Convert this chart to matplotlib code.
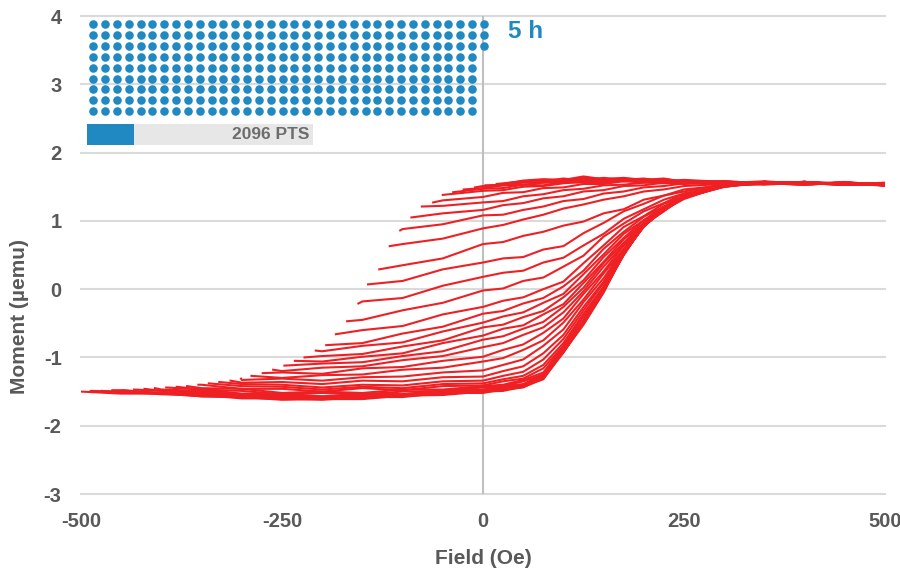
import matplotlib
matplotlib.use('Agg')
import matplotlib.pyplot as plt
from matplotlib.patches import Rectangle

plt.rcParams['font.family'] = ['Liberation Sans', 'DejaVu Sans']
plt.rcParams['font.weight'] = 'bold'
plt.rcParams['axes.unicode_minus'] = False

# field steps shared by all reversal curves (Oe)
FIELD_GRID = [-450, -400, -350, -300, -250, -200, -150, -100, -50,
              0, 25, 50, 75, 100, 125, 150, 175, 200, 225, 250,
              300, 350, 400, 450, 500]

# reversal fields (Oe); each curve: moment at reversal, then at grid points above it
HR_UPPER = [30, 17, 3, -10, -24, -37, -50, -62, -76, -89]
M_UPPER = [
    [1.55, 1.59, 1.61, 1.60, 1.65, 1.61, 1.63, 1.60, 1.62, 1.57, 1.58, 1.55, 1.57, 1.53, 1.55],
    [1.54, 1.55, 1.58, 1.60, 1.58, 1.63, 1.61, 1.62, 1.59, 1.61, 1.58, 1.55, 1.58, 1.54, 1.56, 1.53],
    [1.52, 1.53, 1.57, 1.58, 1.62, 1.59, 1.63, 1.60, 1.62, 1.58, 1.60, 1.57, 1.54, 1.57, 1.53, 1.55],
    [1.49, 1.51, 1.52, 1.56, 1.56, 1.60, 1.59, 1.62, 1.58, 1.61, 1.59, 1.58, 1.56, 1.54, 1.57, 1.55, 1.53],
    [1.46, 1.48, 1.52, 1.53, 1.56, 1.56, 1.60, 1.58, 1.61, 1.58, 1.60, 1.57, 1.58, 1.55, 1.53, 1.56, 1.54],
    [1.42, 1.47, 1.48, 1.53, 1.52, 1.57, 1.56, 1.60, 1.58, 1.60, 1.57, 1.59, 1.55, 1.57, 1.54, 1.55, 1.52],
    [1.38, 1.44, 1.45, 1.50, 1.51, 1.55, 1.57, 1.56, 1.60, 1.57, 1.59, 1.56, 1.57, 1.54, 1.56, 1.53, 1.55],
    [1.27, 1.30, 1.35, 1.41, 1.42, 1.48, 1.49, 1.54, 1.54, 1.58, 1.56, 1.59, 1.55, 1.58, 1.53, 1.56, 1.54, 1.52],
    [1.21, 1.22, 1.27, 1.29, 1.36, 1.39, 1.45, 1.47, 1.52, 1.53, 1.56, 1.55, 1.57, 1.54, 1.57, 1.55, 1.53, 1.54],
    [1.05, 1.11, 1.16, 1.23, 1.26, 1.33, 1.36, 1.43, 1.45, 1.51, 1.52, 1.56, 1.54, 1.57, 1.54, 1.56, 1.53, 1.55],
]

HR_MIDDLE = [-103, -116, -129, -143, -155, -169, -183, -195, -208, -222, -234, -247]
M_MIDDLE = [
    [0.86, 0.88, 0.95, 1.08, 1.09, 1.16, 1.21, 1.29, 1.32, 1.40, 1.43, 1.49, 1.51, 1.55, 1.54, 1.57, 1.55, 1.53, 1.56],
    [0.63, 0.66, 0.74, 0.89, 0.94, 1.02, 1.09, 1.18, 1.24, 1.31, 1.36, 1.43, 1.46, 1.51, 1.54, 1.57, 1.54, 1.56, 1.53],
    [0.29, 0.35, 0.45, 0.66, 0.69, 0.78, 0.84, 0.93, 0.99, 1.11, 1.17, 1.31, 1.37, 1.46, 1.52, 1.56, 1.55, 1.53, 1.55],
    [0.07, 0.12, 0.29, 0.39, 0.45, 0.47, 0.58, 0.63, 0.82, 0.97, 1.14, 1.25, 1.37, 1.43, 1.54, 1.55, 1.57, 1.54, 1.52],
    [-0.21, -0.18, -0.13, 0.05, 0.18, 0.24, 0.27, 0.39, 0.46, 0.64, 0.81, 1.03, 1.17, 1.31, 1.40, 1.53, 1.54, 1.57, 1.53, 1.55],
    [-0.47, -0.45, -0.31, -0.20, -0.02, 0.01, 0.12, 0.17, 0.33, 0.49, 0.77, 0.96, 1.14, 1.26, 1.40, 1.51, 1.57, 1.54, 1.56, 1.53],
    [-0.66, -0.60, -0.54, -0.37, -0.26, -0.17, -0.12, 0.00, 0.11, 0.38, 0.64, 0.91, 1.07, 1.25, 1.36, 1.53, 1.55, 1.57, 1.53, 1.55],
    [-0.82, -0.79, -0.65, -0.55, -0.36, -0.32, -0.21, -0.13, 0.04, 0.27, 0.59, 0.84, 1.06, 1.21, 1.37, 1.50, 1.56, 1.54, 1.56, 1.52],
    [-0.90, -0.91, -0.83, -0.78, -0.62, -0.49, -0.40, -0.34, -0.20, -0.07, 0.22, 0.51, 0.81, 1.01, 1.21, 1.34, 1.52, 1.55, 1.57, 1.53, 1.54],
    [-1.00, -0.98, -0.95, -0.84, -0.75, -0.56, -0.52, -0.41, -0.32, -0.12, 0.13, 0.47, 0.75, 1.01, 1.18, 1.35, 1.50, 1.57, 1.54, 1.56, 1.53],
    [-1.05, -1.06, -0.99, -0.94, -0.79, -0.68, -0.58, -0.53, -0.37, -0.22, 0.09, 0.40, 0.73, 0.97, 1.19, 1.33, 1.52, 1.54, 1.57, 1.53, 1.55],
    [-1.12, -1.09, -1.07, -0.98, -0.91, -0.74, -0.69, -0.58, -0.48, -0.26, 0.02, 0.38, 0.68, 0.97, 1.16, 1.34, 1.50, 1.56, 1.53, 1.56, 1.52],
]

HR_LOWER = [-261, -274, -288, -301, -314, -328, -341, -354, -368, -381, -394,
            -408, -421, -434, -448, -461, -474, -488, -500]
M_LOWER = [
    [-1.18, -1.20, -1.15, -1.13, -1.04, -0.98, -0.85, -0.79, -0.67, -0.56, -0.34, -0.03, 0.33, 0.65, 0.96, 1.15, 1.34, 1.50, 1.57, 1.54, 1.56, 1.53],
    [-1.23, -1.22, -1.24, -1.16, -1.14, -1.05, -0.99, -0.89, -0.81, -0.64, -0.43, -0.07, 0.26, 0.64, 0.93, 1.16, 1.32, 1.52, 1.55, 1.57, 1.53, 1.54],
    [-1.27, -1.30, -1.26, -1.25, -1.18, -1.15, -1.06, -1.01, -0.89, -0.75, -0.49, -0.15, 0.23, 0.59, 0.94, 1.14, 1.35, 1.51, 1.56, 1.53, 1.57, 1.52],
    [-1.31, -1.33, -1.31, -1.34, -1.29, -1.28, -1.22, -1.19, -1.11, -1.03, -0.83, -0.59, -0.19, 0.16, 0.59, 0.92, 1.17, 1.34, 1.53, 1.55, 1.54, 1.56, 1.52],
    [-1.34, -1.37, -1.36, -1.39, -1.34, -1.35, -1.29, -1.28, -1.20, -1.13, -0.94, -0.67, -0.26, 0.11, 0.57, 0.92, 1.17, 1.34, 1.51, 1.56, 1.57, 1.53, 1.55],
    [-1.36, -1.39, -1.40, -1.44, -1.40, -1.41, -1.35, -1.34, -1.27, -1.21, -1.03, -0.73, -0.31, 0.09, 0.53, 0.94, 1.15, 1.37, 1.53, 1.55, 1.53, 1.56, 1.54],
    [-1.38, -1.42, -1.43, -1.47, -1.43, -1.45, -1.39, -1.38, -1.32, -1.27, -1.11, -0.79, -0.36, 0.04, 0.54, 0.92, 1.18, 1.35, 1.52, 1.57, 1.54, 1.55, 1.52],
    [-1.40, -1.40, -1.46, -1.46, -1.50, -1.45, -1.48, -1.42, -1.41, -1.35, -1.31, -1.16, -0.83, -0.40, 0.02, 0.53, 0.92, 1.18, 1.35, 1.54, 1.55, 1.57, 1.53, 1.54],
    [-1.42, -1.45, -1.46, -1.52, -1.50, -1.52, -1.47, -1.47, -1.42, -1.40, -1.33, -1.22, -0.84, -0.45, 0.03, 0.51, 0.94, 1.16, 1.37, 1.52, 1.56, 1.54, 1.55, 1.53],
    [-1.43, -1.47, -1.49, -1.54, -1.52, -1.54, -1.50, -1.49, -1.44, -1.42, -1.35, -1.25, -0.86, -0.47, 0.01, 0.53, 0.92, 1.18, 1.35, 1.53, 1.54, 1.56, 1.53, 1.55],
    [-1.44, -1.47, -1.53, -1.53, -1.57, -1.53, -1.54, -1.48, -1.47, -1.42, -1.39, -1.25, -0.89, -0.46, -0.01, 0.52, 0.94, 1.16, 1.37, 1.51, 1.57, 1.55, 1.54, 1.52],
    [-1.45, -1.47, -1.49, -1.55, -1.55, -1.58, -1.54, -1.54, -1.49, -1.48, -1.43, -1.40, -1.26, -0.90, -0.47, 0.01, 0.51, 0.94, 1.16, 1.37, 1.53, 1.55, 1.57, 1.53, 1.54],
    [-1.46, -1.49, -1.51, -1.57, -1.56, -1.59, -1.55, -1.55, -1.50, -1.49, -1.44, -1.41, -1.27, -0.91, -0.47, -0.02, 0.53, 0.92, 1.18, 1.35, 1.52, 1.56, 1.55, 1.56, 1.52],
    [-1.47, -1.49, -1.54, -1.55, -1.59, -1.57, -1.58, -1.54, -1.52, -1.48, -1.47, -1.40, -1.30, -0.89, -0.50, 0.00, 0.51, 0.94, 1.16, 1.37, 1.51, 1.57, 1.54, 1.55, 1.54],
    [-1.48, -1.52, -1.53, -1.58, -1.58, -1.60, -1.57, -1.56, -1.51, -1.51, -1.45, -1.43, -1.28, -0.92, -0.48, -0.03, 0.52, 0.92, 1.18, 1.35, 1.53, 1.54, 1.56, 1.53, 1.55],
    [-1.48, -1.48, -1.53, -1.54, -1.59, -1.59, -1.61, -1.57, -1.57, -1.52, -1.51, -1.46, -1.43, -1.29, -0.92, -0.49, -0.01, 0.50, 0.94, 1.16, 1.37, 1.51, 1.57, 1.55, 1.53, 1.54],
    [-1.49, -1.51, -1.52, -1.57, -1.58, -1.61, -1.60, -1.60, -1.55, -1.54, -1.49, -1.48, -1.42, -1.31, -0.91, -0.51, -0.04, 0.52, 0.92, 1.18, 1.35, 1.53, 1.54, 1.57, 1.53, 1.55],
    [-1.49, -1.50, -1.54, -1.55, -1.60, -1.60, -1.62, -1.58, -1.58, -1.52, -1.52, -1.47, -1.44, -1.30, -0.93, -0.50, -0.02, 0.50, 0.94, 1.16, 1.37, 1.52, 1.56, 1.54, 1.56, 1.52],
    [-1.50, -1.53, -1.53, -1.57, -1.58, -1.62, -1.61, -1.61, -1.56, -1.55, -1.50, -1.49, -1.43, -1.32, -0.92, -0.52, -0.05, 0.52, 0.92, 1.18, 1.35, 1.53, 1.55, 1.56, 1.53, 1.54],
]

X_TICKS = [-500, -250, 0, 250, 500]
Y_TICKS = [-3, -2, -1, 0, 1, 2, 3, 4]

ELAPSED_MIN = 300      # one dot per minute
POINTS_DONE = 2096
POINTS_TOTAL = 10000

RED = '#ee2024'
BLUE = '#2189c2'

fig = plt.figure(figsize=(9, 5.73), dpi=100)
ax = fig.add_axes([81 / 900, 1 - 494 / 573, 804 / 900, 478 / 573])

for hrs, curves in [(HR_UPPER, M_UPPER), (HR_MIDDLE, M_MIDDLE), (HR_LOWER, M_LOWER)]:
    for hr, m in zip(hrs, curves):
        x = [hr] + [g for g in FIELD_GRID if g > hr]
        assert len(x) == len(m), hr
        ax.plot(x, m, color=RED, lw=1.5, zorder=3, solid_joinstyle='round')

ax.set_xlim(-500, 500)
ax.set_ylim(-3, 4)
ax.set_xticks(X_TICKS)
ax.set_yticks(Y_TICKS)
for y in Y_TICKS:
    ax.axhline(y, color='#dadada', lw=1.5, zorder=0, clip_on=False)
ax.axvline(0, color='#bfbfbf', lw=1.5, zorder=1)
for s in ax.spines.values():
    s.set_visible(False)
ax.tick_params(length=0, labelsize=14.5, labelcolor='#595959')
ax.tick_params(axis='y', pad=14)
ax.tick_params(axis='x', pad=13)

# elapsed-time dot counter, filled column by column
rows = 9
xs, ys = [], []
for i in range(ELAPSED_MIN):
    xs.append(0.0153 + (i // rows) * 0.01472)
    ys.append(0.9826 - (i % rows) * 0.0227)
ax.scatter(xs, ys, s=38, color=BLUE, linewidths=0, transform=ax.transAxes,
           zorder=4, clip_on=False)
ax.text(0.5315, 0.9675, '%d h' % (ELAPSED_MIN // 60), transform=ax.transAxes,
        ha='left', va='center', fontsize=17.5, color=BLUE)

# acquired points progress bar
bx, by, bw, bh = 0.0075, 0.730, 0.2811, 0.044
ax.add_patch(Rectangle((bx, by), bw, bh, transform=ax.transAxes,
                       color='#e6e7e6', lw=0, zorder=4))
ax.add_patch(Rectangle((bx, by), bw * POINTS_DONE / POINTS_TOTAL, bh,
                       transform=ax.transAxes, color=BLUE, lw=0, zorder=5))
ax.text(bx + bw - 0.004, by + bh / 2, '%d PTS' % POINTS_DONE,
        transform=ax.transAxes, ha='right', va='center', fontsize=12.5,
        color='#6d6d6d', zorder=6)

fig.text(483 / 900, 1 - 558 / 573, 'Field (Oe)', ha='center', va='center',
         fontsize=15, color='#595959')
fig.text(20 / 900, 1 - 317 / 573, 'Moment (µemu)', ha='center', va='center',
         rotation=90, fontsize=15, color='#595959')

fig.savefig('out.png', dpi=100)
